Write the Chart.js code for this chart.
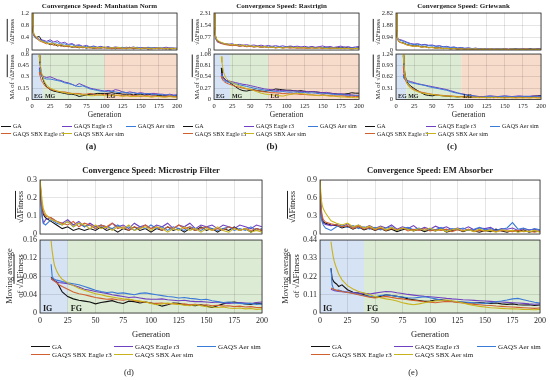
<!DOCTYPE html>
<html>
<head>
<meta charset="utf-8">
<script src="https://cdn.jsdelivr.net/npm/chart.js@4.4.0/dist/chart.umd.min.js"></script>
<style>
  body { margin:0; width:550px; height:380px; background:#fff; position:relative; overflow:hidden; font-family:"Liberation Serif", serif; color:#222; }
  canvas { position:absolute; }
  .t { position:absolute; white-space:nowrap; line-height:1; transform:translate(-50%,-50%); }
  .b { font-weight:bold; }
  .yl { transform:translate(-50%,-50%) rotate(-90deg); text-align:center; }
  .ov { text-decoration:overline; }
  .leg { position:absolute; white-space:nowrap; line-height:1; }
  .leg i { display:inline-block; vertical-align:middle; border-top:1.6px solid; margin-right:2px; margin-top:-1px; }
</style>
</head>
<body>
<script>
// generazioni campionate (grezzo e media mobile)
const GEN_RAW = [0,1,2,3,5,
  10,15,20,25,30,35,40,45,
  50,55,60,65,70,75,80,85,
  90,95,100,105,110,115,120,125,
  130,135,140,145,150,155,160,165,
  170,175,180,185,190,195,200];
const GEN_MA = [10,11,12,13,15,17,20,
  25,30,35,40,45,50,55,60,
  65,70,75,80,85,90,95,100,
  105,110,115,120,125,130,135,140,
  145,150,155,160,165,170,175,180,
  185,190,195,200];
const X_TICKS = [0,25,50,75,100,125,150,175,200];

const SERIES_NAMES = ['GA','GAQS Eagle r3','GAQS Aer sim','GAQS SBX Eagle r3','GAQS SBX Aer sim'];
const SERIES_COLORS = ['#111111','#6f40c0','#3b7bd8','#d2602e','#c9b31c'];
const FONT = 'Liberation Serif';

// (a) Manhattan Norm
const A_RAW_TICKS = [0,0.4,0.8,1.2];
const A_MA_TICKS = [0,0.15,0.3,0.45,0.6];
const A_PHASES = [0,15,100,200];
const A_PHASE_NAMES = ['EG','MG','LG'];
const A_RAW_GA = [1.20,0.72,0.55,0.46,0.40,
  0.44,0.26,0.24,0.17,0.20,0.13,0.16,0.11,
  0.13,0.09,0.11,0.07,0.10,0.06,0.09,0.05,
  0.08,0.06,0.09,0.05,0.07,0.04,0.08,0.05,
  0.06,0.09,0.04,0.06,0.05,0.08,0.03,0.06,
  0.05,0.07,0.04,0.06,0.03,0.05,0.04];
const A_RAW_EAGLE = [1.18,0.70,0.52,0.48,0.42,
  0.35,0.32,0.28,0.33,0.26,0.30,0.22,0.25,
  0.18,0.21,0.15,0.17,0.12,0.15,0.10,0.13,
  0.09,0.12,0.08,0.11,0.07,0.10,0.08,0.06,
  0.09,0.07,0.10,0.06,0.08,0.05,0.09,0.06,
  0.08,0.05,0.07,0.09,0.06,0.07,0.05];
const A_RAW_AER = [1.19,0.68,0.50,0.44,0.38,
  0.33,0.29,0.24,0.28,0.21,0.24,0.18,0.20,
  0.15,0.18,0.12,0.15,0.10,0.12,0.09,0.11,
  0.08,0.10,0.07,0.09,0.06,0.08,0.07,0.09,
  0.05,0.08,0.06,0.09,0.05,0.07,0.06,0.08,
  0.05,0.07,0.06,0.04,0.07,0.05,0.06];
const A_RAW_SBX_EAGLE = [1.20,0.74,0.56,0.47,0.41,
  0.30,0.25,0.20,0.22,0.15,0.18,0.12,0.14,
  0.10,0.12,0.08,0.11,0.07,0.09,0.06,0.08,
  0.05,0.08,0.06,0.07,0.04,0.07,0.05,0.06,
  0.04,0.07,0.05,0.06,0.04,0.06,0.05,0.03,
  0.06,0.04,0.05,0.03,0.06,0.04,0.05];
const A_RAW_SBX_AER = [1.21,0.80,0.60,0.50,0.45,
  0.32,0.27,0.23,0.19,0.22,0.15,0.18,0.12,
  0.15,0.10,0.13,0.08,0.11,0.07,0.10,0.06,
  0.09,0.07,0.10,0.05,0.08,0.06,0.09,0.05,
  0.07,0.05,0.08,0.06,0.04,0.07,0.05,0.06,
  0.04,0.07,0.05,0.06,0.03,0.06,0.04];
const A_MA_GA = [0.58,0.48,0.40,0.34,0.27,0.22,0.17,
  0.13,0.11,0.10,0.09,0.08,0.07,0.07,0.06,
  0.04,0.05,0.06,0.07,0.07,0.08,0.08,0.08,
  0.08,0.09,0.08,0.08,0.07,0.07,0.07,0.06,
  0.07,0.07,0.06,0.07,0.06,0.06,0.05,0.05,
  0.05,0.04,0.05,0.05];
const A_MA_EAGLE = [0.42,0.38,0.35,0.33,0.31,0.30,0.29,
  0.30,0.28,0.26,0.25,0.23,0.22,0.20,0.18,
  0.21,0.19,0.17,0.15,0.14,0.13,0.12,0.11,
  0.12,0.11,0.13,0.12,0.10,0.09,0.10,0.09,
  0.08,0.09,0.08,0.07,0.08,0.08,0.07,0.07,
  0.06,0.07,0.06,0.06];
const A_MA_AER = [0.40,0.36,0.33,0.31,0.29,0.28,0.27,
  0.27,0.26,0.25,0.24,0.22,0.21,0.20,0.18,
  0.17,0.18,0.16,0.14,0.13,0.12,0.11,0.11,
  0.10,0.11,0.10,0.09,0.10,0.09,0.08,0.09,
  0.08,0.08,0.07,0.08,0.07,0.06,0.07,0.06,
  0.06,0.06,0.05,0.06];
const A_MA_SBX_EAGLE = [0.36,0.32,0.28,0.25,0.22,0.19,0.16,
  0.14,0.12,0.11,0.10,0.10,0.09,0.08,0.08,
  0.08,0.07,0.07,0.08,0.07,0.06,0.06,0.07,
  0.06,0.06,0.05,0.06,0.05,0.05,0.06,0.05,
  0.05,0.04,0.05,0.05,0.04,0.05,0.04,0.04,
  0.04,0.05,0.04,0.04];
const A_MA_SBX_AER = [0.59,0.50,0.42,0.36,0.29,0.24,0.19,
  0.15,0.13,0.11,0.10,0.09,0.08,0.08,0.07,
  0.07,0.06,0.06,0.05,0.05,0.06,0.06,0.05,
  0.05,0.05,0.06,0.05,0.04,0.05,0.04,0.04,
  0.04,0.05,0.04,0.04,0.03,0.04,0.04,0.03,
  0.03,0.04,0.03,0.03];

// (b) Rastrigin
const B_RAW_TICKS = [0,0.77,1.54,2.31];
const B_MA_TICKS = [0,0.27,0.54,0.81,1.08];
const B_PHASES = [0,22,75,200];
const B_PHASE_NAMES = ['EG','MG','LG'];
const B_RAW_GA = [2.30,1.30,0.90,0.70,0.55,
  0.45,0.38,0.35,0.30,0.33,0.25,0.28,0.22,
  0.25,0.20,0.23,0.18,0.21,0.16,0.20,0.15,
  0.19,0.14,0.18,0.21,0.15,0.18,0.13,0.17,
  0.14,0.19,0.13,0.16,0.12,0.18,0.14,0.11,
  0.16,0.13,0.18,0.12,0.15,0.11,0.14];
const B_RAW_EAGLE = [2.28,1.20,0.85,0.65,0.48,
  0.42,0.40,0.36,0.39,0.32,0.35,0.30,0.33,
  0.28,0.31,0.26,0.30,0.24,0.28,0.23,0.27,
  0.22,0.26,0.20,0.25,0.21,0.24,0.19,0.23,
  0.18,0.22,0.17,0.21,0.25,0.18,0.22,0.16,
  0.20,0.24,0.17,0.21,0.15,0.19,0.22];
const B_RAW_AER = [2.25,1.10,0.80,0.62,0.50,
  0.44,0.36,0.33,0.29,0.31,0.26,0.29,0.23,
  0.26,0.21,0.24,0.19,0.22,0.18,0.21,0.17,
  0.20,0.16,0.19,0.15,0.18,0.14,0.17,0.15,
  0.13,0.16,0.12,0.15,0.13,0.16,0.12,0.14,
  0.11,0.14,0.12,0.10,0.13,0.11,0.12];
const B_RAW_SBX_EAGLE = [2.31,1.25,0.88,0.68,0.52,
  0.40,0.34,0.30,0.27,0.29,0.23,0.26,0.20,
  0.23,0.18,0.21,0.16,0.19,0.15,0.18,0.13,
  0.16,0.12,0.15,0.11,0.14,0.10,0.13,0.11,
  0.09,0.12,0.10,0.13,0.09,0.11,0.08,0.12,
  0.09,0.11,0.08,0.10,0.07,0.09,0.08];
const B_RAW_SBX_AER = [2.31,1.40,0.95,0.75,0.60,
  0.48,0.40,0.36,0.32,0.35,0.28,0.31,0.24,
  0.27,0.21,0.25,0.18,0.22,0.15,0.19,0.13,
  0.17,0.12,0.16,0.19,0.13,0.17,0.12,0.16,
  0.11,0.15,0.10,0.14,0.12,0.09,0.13,0.10,
  0.12,0.08,0.11,0.09,0.07,0.10,0.08];
const B_MA_GA = [0.75,0.62,0.55,0.52,0.48,0.45,0.42,
  0.36,0.30,0.24,0.21,0.20,0.22,0.23,0.21,
  0.20,0.19,0.21,0.22,0.25,0.24,0.23,0.22,
  0.22,0.21,0.20,0.21,0.19,0.18,0.19,0.18,
  0.17,0.16,0.15,0.15,0.14,0.13,0.12,0.13,
  0.14,0.16,0.15,0.15];
const B_MA_EAGLE = [0.62,0.56,0.52,0.50,0.47,0.45,0.44,
  0.42,0.40,0.38,0.36,0.35,0.33,0.31,0.29,
  0.27,0.25,0.24,0.23,0.22,0.21,0.22,0.21,
  0.20,0.21,0.20,0.19,0.20,0.18,0.19,0.18,
  0.17,0.16,0.17,0.15,0.14,0.13,0.14,0.12,
  0.12,0.11,0.10,0.10];
const B_MA_AER = [0.58,0.52,0.48,0.46,0.44,0.42,0.41,
  0.39,0.37,0.35,0.33,0.31,0.29,0.27,0.25,
  0.24,0.22,0.21,0.20,0.19,0.18,0.19,0.18,
  0.17,0.18,0.17,0.16,0.17,0.15,0.16,0.15,
  0.14,0.13,0.14,0.13,0.12,0.11,0.12,0.10,
  0.10,0.09,0.09,0.08];
const B_MA_SBX_EAGLE = [0.55,0.50,0.46,0.44,0.41,0.39,0.37,
  0.34,0.31,0.29,0.27,0.25,0.24,0.22,0.21,
  0.19,0.18,0.17,0.16,0.16,0.15,0.14,0.14,
  0.13,0.14,0.13,0.12,0.12,0.11,0.11,0.10,
  0.10,0.11,0.10,0.09,0.09,0.08,0.09,0.08,
  0.07,0.08,0.07,0.07];
const B_MA_SBX_AER = [1.02,0.88,0.76,0.66,0.56,0.50,0.45,
  0.40,0.36,0.32,0.29,0.26,0.24,0.21,0.18,
  0.15,0.13,0.12,0.11,0.10,0.09,0.08,0.10,
  0.12,0.13,0.15,0.14,0.13,0.12,0.11,0.10,
  0.09,0.10,0.09,0.08,0.08,0.07,0.06,0.06,
  0.05,0.05,0.04,0.05];

// (c) Griewank
const C_RAW_TICKS = [0,0.94,1.88,2.82];
const C_MA_TICKS = [0,0.31,0.62,0.93,1.24];
const C_PHASES = [0,14,90,200];
const C_PHASE_NAMES = ['EG','MG','LG'];
const C_RAW_GA = [2.80,1.40,0.95,0.75,0.60,
  0.55,0.42,0.36,0.30,0.33,0.24,0.27,0.19,
  0.22,0.15,0.18,0.12,0.15,0.10,0.13,0.08,
  0.11,0.07,0.10,0.06,0.09,0.05,0.08,0.06,
  0.10,0.05,0.08,0.06,0.09,0.04,0.07,0.10,
  0.05,0.08,0.06,0.11,0.05,0.09,0.07];
const C_RAW_EAGLE = [2.78,1.30,0.90,0.85,0.80,
  0.72,0.60,0.50,0.45,0.48,0.40,0.43,0.36,
  0.38,0.30,0.33,0.25,0.28,0.20,0.23,0.16,
  0.19,0.13,0.16,0.11,0.14,0.09,0.12,0.08,
  0.11,0.07,0.10,0.06,0.09,0.07,0.10,0.06,
  0.09,0.06,0.10,0.07,0.08,0.05,0.09];
const C_RAW_AER = [2.76,1.25,0.88,0.80,0.75,
  0.66,0.55,0.46,0.41,0.44,0.36,0.39,0.32,
  0.34,0.27,0.30,0.22,0.25,0.18,0.21,0.14,
  0.17,0.12,0.15,0.10,0.13,0.08,0.11,0.07,
  0.10,0.06,0.09,0.07,0.08,0.05,0.09,0.06,
  0.08,0.05,0.07,0.06,0.08,0.05,0.07];
const C_RAW_SBX_EAGLE = [2.80,1.35,0.92,0.70,0.58,
  0.50,0.38,0.32,0.27,0.29,0.21,0.24,0.17,
  0.19,0.13,0.16,0.10,0.13,0.08,0.11,0.07,
  0.09,0.06,0.08,0.05,0.07,0.05,0.08,0.04,
  0.07,0.05,0.06,0.04,0.07,0.05,0.06,0.04,
  0.06,0.05,0.07,0.04,0.06,0.05,0.06];
const C_RAW_SBX_AER = [2.82,1.50,1.00,0.78,0.62,
  0.52,0.40,0.33,0.28,0.31,0.22,0.25,0.17,
  0.20,0.13,0.16,0.10,0.13,0.08,0.11,0.06,
  0.09,0.05,0.08,0.06,0.09,0.04,0.07,0.05,
  0.08,0.04,0.07,0.05,0.06,0.04,0.07,0.05,
  0.06,0.04,0.07,0.05,0.06,0.04,0.05];
const C_MA_GA = [1.20,0.95,0.75,0.62,0.50,0.43,0.37,
  0.30,0.24,0.18,0.13,0.11,0.10,0.12,0.11,
  0.10,0.09,0.08,0.08,0.07,0.08,0.07,0.07,
  0.06,0.07,0.06,0.06,0.05,0.06,0.05,0.06,
  0.06,0.05,0.06,0.05,0.06,0.07,0.06,0.07,
  0.08,0.09,0.10,0.11];
const C_MA_EAGLE = [0.68,0.62,0.58,0.55,0.53,0.51,0.49,
  0.46,0.43,0.41,0.39,0.37,0.35,0.33,0.31,
  0.29,0.27,0.24,0.21,0.18,0.16,0.14,0.12,
  0.11,0.09,0.08,0.08,0.09,0.10,0.09,0.08,
  0.09,0.10,0.09,0.08,0.09,0.10,0.09,0.08,
  0.09,0.10,0.09,0.10];
const C_MA_AER = [0.64,0.58,0.55,0.52,0.50,0.48,0.46,
  0.44,0.42,0.40,0.38,0.35,0.33,0.31,0.29,
  0.27,0.25,0.22,0.19,0.17,0.15,0.13,0.11,
  0.10,0.09,0.08,0.07,0.08,0.09,0.08,0.07,
  0.08,0.09,0.08,0.07,0.08,0.07,0.08,0.09,
  0.08,0.07,0.08,0.08];
const C_MA_SBX_EAGLE = [0.90,0.72,0.60,0.52,0.44,0.38,0.33,
  0.27,0.23,0.20,0.18,0.16,0.14,0.13,0.12,
  0.11,0.10,0.10,0.09,0.08,0.08,0.07,0.07,
  0.07,0.06,0.07,0.06,0.06,0.05,0.06,0.06,
  0.05,0.06,0.05,0.06,0.05,0.05,0.06,0.05,
  0.05,0.06,0.05,0.05];
const C_MA_SBX_AER = [1.24,0.98,0.76,0.60,0.46,0.38,0.31,
  0.25,0.21,0.18,0.16,0.15,0.14,0.12,0.11,
  0.10,0.09,0.09,0.08,0.07,0.07,0.06,0.07,
  0.06,0.06,0.05,0.06,0.05,0.05,0.06,0.05,
  0.05,0.04,0.05,0.05,0.04,0.05,0.04,0.05,
  0.04,0.05,0.04,0.04];

// (d) Microstrip Filter
const D_RAW_TICKS = [0,0.1,0.2,0.3];
const D_MA_TICKS = [0,0.04,0.08,0.12,0.16];
const D_PHASES = [0,25,200];
const D_PHASE_NAMES = ['IG','FG'];
const D_RAW_GA = [0.30,0.20,0.14,0.11,0.09,
  0.07,0.05,0.03,0.04,0.02,0.03,0.02,0.03,
  0.02,0.04,0.02,0.03,0.01,0.03,0.02,0.04,
  0.02,0.03,0.01,0.03,0.02,0.04,0.02,0.03,
  0.01,0.03,0.02,0.04,0.02,0.03,0.01,0.03,
  0.02,0.04,0.02,0.03,0.01,0.03,0.02];
const D_RAW_EAGLE = [0.30,0.18,0.10,0.06,0.08,
  0.09,0.07,0.06,0.08,0.05,0.07,0.04,0.06,
  0.04,0.05,0.03,0.06,0.04,0.05,0.03,0.06,
  0.04,0.05,0.03,0.05,0.04,0.06,0.03,0.05,
  0.04,0.06,0.03,0.05,0.04,0.05,0.03,0.05,
  0.04,0.03,0.05,0.04,0.03,0.05,0.04];
const D_RAW_AER = [0.30,0.16,0.09,0.06,0.05,
  0.08,0.06,0.05,0.07,0.04,0.06,0.04,0.05,
  0.03,0.05,0.04,0.03,0.05,0.03,0.04,0.02,
  0.04,0.03,0.05,0.03,0.04,0.02,0.04,0.03,
  0.02,0.04,0.03,0.02,0.04,0.03,0.02,0.03,
  0.04,0.02,0.03,0.02,0.04,0.02,0.03];
const D_RAW_SBX_EAGLE = [0.30,0.21,0.15,0.12,0.10,
  0.09,0.07,0.06,0.05,0.07,0.04,0.06,0.05,
  0.03,0.05,0.04,0.06,0.03,0.04,0.02,0.04,
  0.03,0.05,0.03,0.04,0.02,0.04,0.03,0.05,
  0.03,0.04,0.02,0.03,0.04,0.02,0.03,0.02,
  0.04,0.03,0.02,0.03,0.02,0.03,0.02];
const D_RAW_SBX_AER = [0.31,0.24,0.18,0.14,0.11,
  0.08,0.07,0.05,0.07,0.04,0.06,0.05,0.03,
  0.05,0.03,0.04,0.02,0.04,0.03,0.05,0.02,
  0.03,0.04,0.02,0.04,0.03,0.01,0.03,0.02,
  0.04,0.02,0.03,0.01,0.03,0.02,0.04,0.02,
  0.01,0.03,0.02,0.03,0.01,0.02,0.01];
const D_MA_GA = [0.078,0.075,0.073,0.071,0.068,0.060,0.046,
  0.036,0.031,0.028,0.026,0.024,0.020,0.023,0.025,
  0.027,0.023,0.021,0.026,0.025,0.022,0.024,0.022,
  0.019,0.015,0.018,0.022,0.021,0.018,0.017,0.016,
  0.018,0.015,0.012,0.016,0.020,0.023,0.024,0.022,
  0.020,0.019,0.022,0.020];
const D_MA_EAGLE = [0.075,0.073,0.071,0.070,0.068,0.067,0.066,
  0.064,0.061,0.057,0.052,0.050,0.047,0.045,0.043,
  0.040,0.038,0.036,0.034,0.035,0.033,0.031,0.030,
  0.030,0.031,0.029,0.028,0.027,0.028,0.026,0.025,
  0.025,0.024,0.023,0.024,0.022,0.021,0.022,0.023,
  0.022,0.021,0.023,0.024];
const D_MA_AER = [0.107,0.080,0.076,0.074,0.072,0.071,0.069,
  0.066,0.064,0.062,0.058,0.054,0.050,0.047,0.045,
  0.046,0.043,0.044,0.042,0.040,0.043,0.044,0.042,
  0.040,0.038,0.036,0.035,0.033,0.034,0.032,0.031,
  0.029,0.030,0.027,0.025,0.023,0.024,0.022,0.021,
  0.020,0.021,0.019,0.020];
const D_MA_SBX_EAGLE = [0.076,0.074,0.072,0.070,0.066,0.062,0.058,
  0.052,0.046,0.042,0.040,0.037,0.034,0.032,0.030,
  0.031,0.029,0.028,0.030,0.027,0.025,0.024,0.022,
  0.021,0.022,0.020,0.021,0.019,0.020,0.018,0.019,
  0.017,0.018,0.016,0.017,0.015,0.016,0.014,0.015,
  0.013,0.014,0.012,0.012];
const D_MA_SBX_AER = [0.158,0.135,0.118,0.105,0.092,0.083,0.074,
  0.066,0.060,0.054,0.050,0.046,0.042,0.040,0.037,
  0.035,0.033,0.031,0.030,0.028,0.026,0.024,0.021,
  0.018,0.020,0.022,0.020,0.019,0.017,0.016,0.018,
  0.016,0.014,0.013,0.012,0.013,0.011,0.010,0.011,
  0.009,0.010,0.008,0.009];

// (e) EM Absorber
const E_RAW_TICKS = [0,0.3,0.6,0.9];
const E_MA_TICKS = [0,0.11,0.22,0.33,0.44];
const E_PHASES = [0,40,200];
const E_PHASE_NAMES = ['IG','FG'];
const E_RAW_GA = [0.90,0.40,0.25,0.20,0.18,
  0.15,0.14,0.10,0.13,0.08,0.12,0.07,0.10,
  0.06,0.09,0.05,0.08,0.04,0.07,0.09,0.05,
  0.08,0.04,0.07,0.05,0.09,0.03,0.06,0.08,
  0.04,0.07,0.05,0.03,0.06,0.04,0.08,0.05,
  0.03,0.06,0.04,0.07,0.03,0.05,0.04];
const E_RAW_EAGLE = [0.88,0.35,0.22,0.18,0.16,
  0.14,0.16,0.12,0.17,0.11,0.15,0.10,0.14,
  0.09,0.13,0.10,0.15,0.08,0.12,0.09,0.14,
  0.07,0.11,0.08,0.13,0.09,0.12,0.07,0.10,
  0.08,0.12,0.07,0.10,0.09,0.11,0.06,0.09,
  0.08,0.10,0.06,0.09,0.07,0.08,0.06];
const E_RAW_AER = [0.85,0.28,0.20,0.15,0.10,
  0.06,0.12,0.15,0.11,0.14,0.09,0.12,0.08,
  0.11,0.07,0.10,0.12,0.06,0.09,0.11,0.07,
  0.10,0.06,0.09,0.07,0.11,0.06,0.09,0.07,
  0.10,0.06,0.08,0.11,0.07,0.09,0.06,0.08,
  0.10,0.19,0.08,0.10,0.06,0.09,0.07];
const E_RAW_SBX_EAGLE = [0.90,0.45,0.30,0.24,0.20,
  0.17,0.15,0.12,0.14,0.09,0.13,0.08,0.11,
  0.07,0.10,0.06,0.09,0.07,0.10,0.05,0.08,
  0.06,0.09,0.05,0.07,0.06,0.08,0.04,0.07,
  0.05,0.08,0.04,0.06,0.05,0.07,0.04,0.06,
  0.05,0.04,0.06,0.04,0.05,0.03,0.05];
const E_RAW_SBX_AER = [0.92,0.60,0.48,0.42,0.35,
  0.22,0.18,0.15,0.18,0.12,0.15,0.10,0.13,
  0.08,0.12,0.07,0.11,0.06,0.10,0.08,0.05,
  0.09,0.06,0.10,0.05,0.08,0.04,0.07,0.09,
  0.05,0.07,0.04,0.08,0.05,0.06,0.03,0.07,
  0.05,0.06,0.03,0.05,0.04,0.06,0.03];
const E_MA_GA = [0.270,0.210,0.195,0.185,0.175,0.160,0.170,
  0.140,0.125,0.120,0.110,0.100,0.095,0.100,0.110,
  0.105,0.100,0.095,0.085,0.080,0.075,0.070,0.072,
  0.078,0.080,0.075,0.070,0.068,0.065,0.062,0.060,
  0.063,0.060,0.058,0.060,0.055,0.052,0.055,0.050,
  0.048,0.050,0.045,0.048];
const E_MA_EAGLE = [0.145,0.140,0.138,0.135,0.133,0.130,0.128,
  0.126,0.124,0.120,0.118,0.115,0.120,0.125,0.130,
  0.128,0.122,0.118,0.112,0.108,0.104,0.100,0.098,
  0.095,0.092,0.088,0.085,0.083,0.080,0.078,0.076,
  0.074,0.072,0.070,0.068,0.066,0.064,0.062,0.060,
  0.058,0.055,0.053,0.055];
const E_MA_AER = [0.270,0.170,0.150,0.140,0.135,0.138,0.132,
  0.125,0.120,0.112,0.105,0.100,0.098,0.105,0.110,
  0.105,0.100,0.096,0.092,0.090,0.094,0.098,0.092,
  0.085,0.078,0.072,0.070,0.068,0.066,0.064,0.062,
  0.060,0.058,0.062,0.068,0.072,0.078,0.085,0.088,
  0.080,0.072,0.065,0.060];
const E_MA_SBX_EAGLE = [0.150,0.148,0.145,0.142,0.138,0.135,0.130,
  0.124,0.118,0.110,0.102,0.095,0.090,0.095,0.100,
  0.094,0.088,0.085,0.080,0.076,0.072,0.068,0.065,
  0.062,0.066,0.070,0.068,0.064,0.060,0.056,0.052,
  0.050,0.047,0.045,0.042,0.040,0.038,0.036,0.034,
  0.032,0.030,0.028,0.030];
const E_MA_SBX_AER = [0.430,0.380,0.340,0.310,0.270,0.235,0.200,
  0.165,0.145,0.130,0.120,0.110,0.100,0.092,0.085,
  0.080,0.072,0.062,0.055,0.050,0.055,0.062,0.068,
  0.072,0.075,0.078,0.074,0.068,0.060,0.052,0.045,
  0.040,0.036,0.032,0.030,0.028,0.026,0.025,0.024,
  0.022,0.021,0.020,0.022];

const PHASE_COLORS = ['#d6e3f5','#dcebd4','#f8dccb'];

// disegna un sottografico (canvas posizionato in assoluto sull'area del grafico)
function makePlot(o) {
  const YW = 30, PT = 6, PR = 12, PB = 2;
  const XH = o.showX ? o.fs + 5 : 0;
  const w = o.r - o.l + YW + PR, h = o.b - o.t + PT + XH + PB;
  const cv = document.createElement('canvas');
  cv.width = w; cv.height = h;
  cv.style.left = (o.l - YW) + 'px';
  cv.style.top = (o.t - PT) + 'px';
  document.body.appendChild(cv);

  const datasets = o.series.map((vals, k) => ({
    label: SERIES_NAMES[k],
    data: o.gens.map((g, i) => ({ x: g, y: vals[i] })),
    borderColor: SERIES_COLORS[k],
    borderWidth: o.lw,
    pointRadius: 0,
    tension: 0,
    order: 4 - k   // l'ultima serie sta sopra
  }));

  const frame = {
    id: 'frame',
    beforeDraw(c) {
      if (!o.phases) return;
      const a = c.chartArea, x = c.scales.x, ctx = c.ctx;
      for (let i = 0; i < o.phases.length - 1; i++) {
        const x0 = x.getPixelForValue(o.phases[i]), x1 = x.getPixelForValue(o.phases[i + 1]);
        ctx.fillStyle = PHASE_COLORS[i];
        ctx.fillRect(x0, a.top, x1 - x0, a.bottom - a.top);
      }
    },
    afterDatasetsDraw(c) {
      if (!o.phases) return;
      const a = c.chartArea, x = c.scales.x, ctx = c.ctx;
      ctx.save();
      ctx.fillStyle = '#1a1a1a';
      ctx.font = 'bold ' + o.pfs + 'px "' + FONT + '"';
      ctx.textBaseline = 'alphabetic';
      o.phaseNames.forEach((n, i) => {
        ctx.fillText(n, x.getPixelForValue(o.phases[i]) + o.pdx, a.bottom - 2);
      });
      ctx.restore();
    },
    afterDraw(c) {
      const a = c.chartArea, ctx = c.ctx;
      ctx.save();
      ctx.strokeStyle = '#2a2a2a';
      ctx.lineWidth = 0.8;
      ctx.strokeRect(a.left, a.top, a.right - a.left, a.bottom - a.top);
      ctx.restore();
    }
  };

  new Chart(cv, {
    type: 'line',
    data: { datasets },
    options: {
      responsive: false,
      animation: false,
      layout: { padding: { left: 0, top: PT, right: PR, bottom: PB } },
      plugins: { legend: { display: false }, tooltip: { enabled: false } },
      scales: {
        x: {
          type: 'linear', min: 0, max: 200,
          afterBuildTicks: s => { s.ticks = X_TICKS.map(v => ({ value: v })); },
          afterFit: s => { s.height = XH; s.paddingLeft = 0; s.paddingRight = 0; },
          ticks: { display: o.showX, padding: 3, autoSkip: false, maxRotation: 0,
                   color: '#262626', font: { family: FONT, size: o.fs } },
          grid: { color: 'rgba(0,0,0,0.13)', lineWidth: 0.8, drawTicks: false },
          border: { display: false }
        },
        y: {
          min: 0, max: o.max,
          afterBuildTicks: s => { s.ticks = o.ticks.map(v => ({ value: v })); },
          afterFit: s => { s.width = YW; s.paddingTop = 0; s.paddingBottom = 0; },
          ticks: { padding: 3, autoSkip: false, color: '#262626',
                   font: { family: FONT, size: o.fs }, callback: v => String(v) },
          grid: { color: 'rgba(0,0,0,0.13)', lineWidth: 0.8, drawTicks: false },
          border: { display: false }
        }
      }
    },
    plugins: [frame]
  });
}

function txt(html, cx, cy, fs, cls) {
  const d = document.createElement('div');
  d.className = 't ' + (cls || '');
  d.style.left = cx + 'px';
  d.style.top = cy + 'px';
  d.style.fontSize = fs + 'px';
  d.innerHTML = html;
  document.body.appendChild(d);
}

function legend(x0, y0, cols, rowH, fs, len) {
  SERIES_NAMES.forEach((name, k) => {
    const row = k < 3 ? 0 : 1, col = k < 3 ? k : k - 3;
    const d = document.createElement('div');
    d.className = 'leg';
    d.style.left = (x0 + cols[col]) + 'px';
    d.style.top = (y0 + row * rowH - fs / 2) + 'px';
    d.style.fontSize = fs + 'px';
    d.innerHTML = '<i style="width:' + len + 'px;border-color:' + SERIES_COLORS[k] + '"></i>' + name;
    document.body.appendChild(d);
  });
}

const SQ = '√<span class="ov">ΔFitness</span>';

// pannelli piccoli (a), (b), (c)
const small = [
  { l: 32, title: 'Convergence Speed: Manhattan Norm', tag: '(a)', tagX: 91, ylx: 12,
    raw: [A_RAW_GA, A_RAW_EAGLE, A_RAW_AER, A_RAW_SBX_EAGLE, A_RAW_SBX_AER],
    ma: [A_MA_GA, A_MA_EAGLE, A_MA_AER, A_MA_SBX_EAGLE, A_MA_SBX_AER],
    rawTicks: A_RAW_TICKS, maTicks: A_MA_TICKS, phases: A_PHASES, phaseNames: A_PHASE_NAMES },
  { l: 214, title: 'Convergence Speed: Rastrigin', tag: '(b)', tagX: 272, ylx: 197,
    raw: [B_RAW_GA, B_RAW_EAGLE, B_RAW_AER, B_RAW_SBX_EAGLE, B_RAW_SBX_AER],
    ma: [B_MA_GA, B_MA_EAGLE, B_MA_AER, B_MA_SBX_EAGLE, B_MA_SBX_AER],
    rawTicks: B_RAW_TICKS, maTicks: B_MA_TICKS, phases: B_PHASES, phaseNames: B_PHASE_NAMES },
  { l: 396, title: 'Convergence Speed: Griewank', tag: '(c)', tagX: 452, ylx: 378,
    raw: [C_RAW_GA, C_RAW_EAGLE, C_RAW_AER, C_RAW_SBX_EAGLE, C_RAW_SBX_AER],
    ma: [C_MA_GA, C_MA_EAGLE, C_MA_AER, C_MA_SBX_EAGLE, C_MA_SBX_AER],
    rawTicks: C_RAW_TICKS, maTicks: C_MA_TICKS, phases: C_PHASES, phaseNames: C_PHASE_NAMES }
];

small.forEach(p => {
  const r = p.l + 145, cx = (p.l + r) / 2;
  makePlot({ l: p.l, r, t: 13, b: 50, showX: false, fs: 6.5, lw: 1, gens: GEN_RAW,
             series: p.raw, max: p.rawTicks[p.rawTicks.length - 1], ticks: p.rawTicks });
  makePlot({ l: p.l, r, t: 54, b: 100, showX: true, fs: 6.5, lw: 1, gens: GEN_MA,
             series: p.ma, max: p.maTicks[p.maTicks.length - 1], ticks: p.maTicks,
             phases: p.phases, phaseNames: p.phaseNames, pfs: 6, pdx: 2 });
  txt(p.title, cx - 5, 6, 7, 'b');
  txt(SQ, p.ylx, 31.5, 6.5, 'yl');
  txt('MA of ' + SQ, p.ylx, 77, 6.5, 'yl');
  txt('Generation', cx, 115, 7.5);
  legend(p.l - 31, 126, [0, 61, 125], 7.5, 6, 10);
  txt(p.tag, p.tagX, 146, 9, 'b');
});

// pannelli grandi (d), (e)
const big = [
  { l: 40, r: 262, title: 'Convergence Speed: Microstrip Filter', tag: '(d)', tagX: 129, ylx: 21, mylx: 15,
    raw: [D_RAW_GA, D_RAW_EAGLE, D_RAW_AER, D_RAW_SBX_EAGLE, D_RAW_SBX_AER],
    ma: [D_MA_GA, D_MA_EAGLE, D_MA_AER, D_MA_SBX_EAGLE, D_MA_SBX_AER],
    rawTicks: D_RAW_TICKS, maTicks: D_MA_TICKS, phases: D_PHASES, phaseNames: D_PHASE_NAMES },
  { l: 320, r: 540, title: 'Convergence Speed: EM Absorber', tag: '(e)', tagX: 413, ylx: 293, mylx: 291,
    raw: [E_RAW_GA, E_RAW_EAGLE, E_RAW_AER, E_RAW_SBX_EAGLE, E_RAW_SBX_AER],
    ma: [E_MA_GA, E_MA_EAGLE, E_MA_AER, E_MA_SBX_EAGLE, E_MA_SBX_AER],
    rawTicks: E_RAW_TICKS, maTicks: E_MA_TICKS, phases: E_PHASES, phaseNames: E_PHASE_NAMES }
];

big.forEach(p => {
  const cx = (p.l + p.r) / 2;
  makePlot({ l: p.l, r: p.r, t: 180, b: 234, showX: false, fs: 8, lw: 1.1, gens: GEN_RAW,
             series: p.raw, max: p.rawTicks[p.rawTicks.length - 1], ticks: p.rawTicks });
  makePlot({ l: p.l, r: p.r, t: 240, b: 313, showX: true, fs: 8, lw: 1.1, gens: GEN_MA,
             series: p.ma, max: p.maTicks[p.maTicks.length - 1], ticks: p.maTicks,
             phases: p.phases, phaseNames: p.phaseNames, pfs: 8, pdx: 3 });
  txt(p.title, cx, 170, 8.5, 'b');
  txt(SQ, p.ylx, 207, 8, 'yl');
  txt('<span style="line-height:1.35">Moving average<br>of ' + SQ + '</span>', p.mylx, 276, 8.5, 'yl');
  txt('Generation', cx, 334, 8.5);
  legend(p.l - 9, 347, [0, 83, 166], 8.5, 7, 19);
  txt(p.tag, p.tagX, 372, 8.5);
});
</script>
</body>
</html>
